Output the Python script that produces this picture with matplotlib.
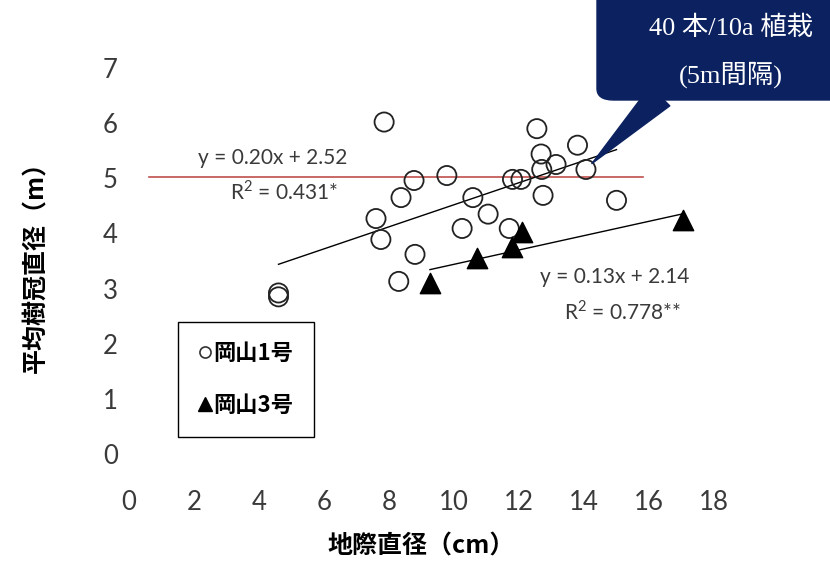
import numpy as np
import matplotlib
matplotlib.use("Agg")
import matplotlib.pyplot as plt
from matplotlib.lines import Line2D
from matplotlib.patches import FancyBboxPatch

plt.rcParams['font.family'] = ['Lato', 'Noto Sans CJK JP', 'DejaVu Sans']
plt.rcParams['mathtext.fontset'] = 'custom'
plt.rcParams['mathtext.rm'] = 'Lato'

# 岡山1号 (circles)
x1 = [4.6, 4.6, 7.85, 7.6, 7.75, 8.3, 8.37, 8.77, 8.8, 9.78, 10.25, 10.58,
      11.05, 11.7, 11.8, 12.06, 12.55, 12.68, 12.7, 12.74, 13.14, 13.8, 14.06, 15.0]
y1 = [2.92, 2.85, 6.02, 4.27, 3.89, 3.13, 4.65, 4.96, 3.62, 5.05, 4.09, 4.65,
      4.35, 4.09, 4.98, 4.98, 5.9, 5.44, 5.16, 4.69, 5.25, 5.6, 5.16, 4.6]
# 岡山3号 (triangles)
x3 = [9.26, 10.7, 11.78, 12.09, 17.05]
y3 = [3.11, 3.55, 3.76, 4.02, 4.25]

fit1 = (0.20, 2.52)
fit3 = (0.13, 2.14)
eq1 = ["y = 0.20x + 2.52", "R$^{2}$ = 0.431*"]
eq3 = ["y = 0.13x + 2.14", "R$^{2}$ = 0.778**"]

ref_y = 5.03          # red reference line
ref_x = [0.6, 15.8]
callout_target = (14.06, 5.16)
callout_lines = ["40 本/10a 植栽", "(5m間隔)"]

navy = '#0c2260'
txt = '#3a3a3a'

fig = plt.figure(figsize=(8.3, 5.63), dpi=100)
ax = fig.add_axes([129/830, 109/563, 585/830, 386/563])

ax.plot(ref_x, [ref_y, ref_y], color='#c0504d', lw=1.2, zorder=1)

for xs, ys, (a, b) in [(x1, y1, fit1), (x3, y3, fit3)]:
    xx = np.array([min(xs), max(xs)])
    ax.plot(xx, a * xx + b, color='black', lw=1.0, zorder=2)

ax.scatter(x1, y1, s=190, facecolors='none', edgecolors='#222222',
           linewidths=1.3, zorder=3)
ax.scatter(x3, y3, s=215, marker='^', color='black', zorder=3)

ax.text(4.43, 5.36, eq1[0], fontsize=15, color=txt, ha='center', va='center')
ax.text(4.78, 4.76, eq1[1], fontsize=15, color=txt, ha='center', va='center')
ax.text(14.95, 3.21, eq3[0], fontsize=15, color=txt, ha='center', va='center')
ax.text(15.17, 2.58, eq3[1], fontsize=15, color=txt, ha='center', va='center')

ax.set_xlim(0, 18)
ax.set_ylim(0, 7)
ax.set_xticks(range(0, 19, 2))
ax.set_yticks(range(0, 8))
for s in ax.spines.values():
    s.set_visible(False)
ax.tick_params(length=0, labelsize=18.5, labelcolor=txt)
ax.tick_params(axis='x', pad=26)
ax.tick_params(axis='y', pad=8)

ax.set_xlabel('地際直径（cm）', fontsize=18, fontweight='bold',
              family=['Noto Sans CJK JP'], labelpad=14)
ax.set_ylabel('平均樹冠直径（m）', fontsize=18, fontweight='bold',
              family=['Noto Sans CJK JP'], labelpad=39)

handles = [
    Line2D([], [], ls='none', marker='o', mfc='white', mec='#333333', ms=8, mew=1.2),
    Line2D([], [], ls='none', marker='^', color='black', ms=10),
]
leg = ax.legend(handles, ['岡山1号', '岡山3号'], loc='upper left',
                bbox_to_anchor=(0.084, 0.342), frameon=True, fancybox=False,
                edgecolor='black', framealpha=1, handlelength=0.6,
                handletextpad=0.1, labelspacing=1.3, borderpad=0.9,
                borderaxespad=0,
                prop={'family': 'Noto Sans CJK JP', 'weight': 'bold', 'size': 16})
leg.get_frame().set_linewidth(1.0)

# callout
box = FancyBboxPatch((597/830, 463/563), 260/830, 120/563,
                     boxstyle='round,pad=0,rounding_size=0.02',
                     transform=fig.transFigure, fc=navy, ec=navy,
                     clip_on=False, zorder=10)
fig.patches.append(box)
ax.annotate('', xy=callout_target, xycoords='data',
            xytext=(660, 563 - 96), textcoords='figure pixels',
            arrowprops=dict(arrowstyle='wedge,tail_width=1.0,shrink_factor=0.5',
                            fc=navy, ec=navy, mutation_scale=20,
                            shrinkA=0, shrinkB=6),
            annotation_clip=False, zorder=11)
for i, line in enumerate(callout_lines):
    fig.text(731/830, 1 - (28 + 47 * i)/563, line, color='white', fontsize=19,
             ha='center', va='center',
             family=['Liberation Serif', 'Noto Sans CJK JP'], zorder=12)

fig.savefig('out.png', dpi=100)
